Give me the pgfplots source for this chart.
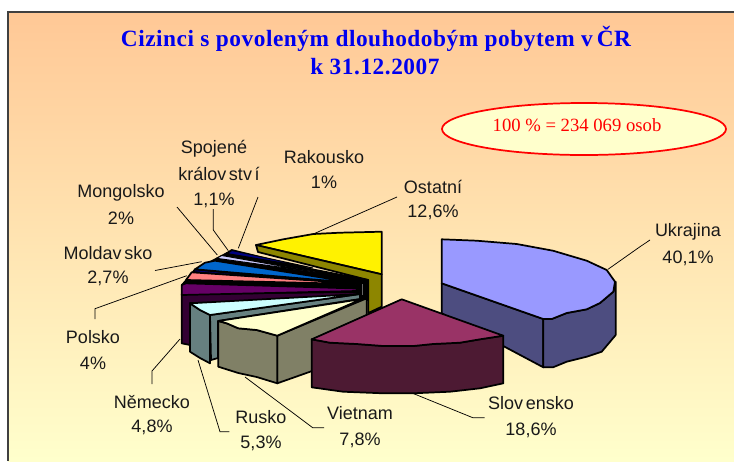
\documentclass[border=0pt]{standalone}
\usepackage{pgfplots}
\pgfplotsset{compat=1.18}
\usepackage{fontspec}
\setmainfont{Liberation Sans}
\newfontfamily\serifbold[LetterSpace=2.3]{Liberation Serif Bold}
\newfontfamily\serifreg{Liberation Serif}
\newcommand{\F}[2]{\addplot[fill=#1,draw=black,line width=1.3pt,line join=round] coordinates {#2} -- cycle;}
\newcommand{\Lab}[3]{\node[font=\fontsize{13.5}{14}\selectfont,text=black!90,inner sep=0pt,anchor=center] at (axis cs:#1,#2) {#3};}
\newcommand{\Lead}[1]{\addplot[black,line width=0.55pt] coordinates {#1};}
\definecolor{bgtop}{HTML}{FFC896}
\definecolor{bgbot}{HTML}{FFFFCC}
\begin{document}
\begin{tikzpicture}
\begin{axis}[
 scale only axis, width=550.5pt, height=345.75pt,
 xmin=0,xmax=734,ymin=0,ymax=461,y dir=reverse,
 hide axis, no markers, clip=true]
% page and panel
\addplot[fill=white,draw=none] coordinates {(0,0)(734,0)(734,461)(0,461)} -- cycle;
\addplot[draw=none,top color=bgtop,bottom color=bgbot] coordinates {(8,12)(734,12)(734,461)(8,461)} -- cycle;
\addplot[draw=black!75,line width=1pt] coordinates {(8,461)(8,12)(734,12)};
% leader lines
\Lead{(640,246.7)(608,269.3)}
\Lead{(640,246.7)(650,240)}
\Lead{(397,197)(313.3,234)}
\Lead{(258,197)(238.3,248.3)}
\Lead{(213.3,209)(213.3,230)(228.3,250.7)}
\Lead{(177,207)(217.3,255)}
\Lead{(155,270.5)(201.7,261.7)}
\Lead{(95,319)(95,308.7)(186.7,275.7)}
\Lead{(152,384)(152,371)(180,339)}
\Lead{(198,360)(220,431.7)(229.4,431.7)}
\Lead{(245,377)(312.7,427.7)(324,427.7)}
\Lead{(412,393)(472.8,417.7)(484.6,417.7)}
% Ostatni
\F{yellow}{(381.7,274.3)(381.7,231.7)(340,232.7)(313.3,234)(283.3,239.3)(256,245)}
\F{olive}{(256,245)(381.7,274.3)(381.7,306.7)(368.3,313)(368.3,280)(258,252)}
% back of the fan
\F{black}{(227,253)(368,280)(368,300)(182,300)(182,285)(195,270)}
\F{black!60!white}{(361,283)(364,283)(364,296)(361,296)}
% Rakousko, Spojene kralovstvi
\F{black}{(226.7,253.3)(231.7,250)(362,282)}
\addplot[fill={rgb,255:red,0;green,0;blue,128},draw=black,line width=0.7pt] coordinates {(227,253.5)(232,250.5)(313,268)} -- cycle;
% Mongolsko
\addplot[fill={rgb,255:red,204;green,204;blue,255},draw=black,line width=0.7pt] coordinates {(216.7,258.3)(221.7,255.5)(315,272)} -- cycle;
% Moldavsko
\F{black!20!blue!60!black}{(195,269.3)(193,272)(358.3,286)}
\F{{rgb,255:red,0;green,102;blue,204}}{(195,269.3)(205,262.7)(215,260.7)(358.3,283.3)}
% Polsko
\F{{rgb,255:red,255;green,128;blue,128}}{(186,280)(191.7,272.3)(320,281)(355,284)}
% Nemecko
\F{{rgb,255:red,51;green,0;blue,51}}{(181.7,294)(356.7,292)(356.7,300)(190,303)(190,345)(181.7,343.3)}
\F{{rgb,255:red,102;green,0;blue,102}}{(181.7,285)(186,283.3)(356.7,288.5)(356.7,291)(181.7,295)}
% Rusko
\F{{rgb,255:red,102;green,128;blue,128}}{(210,315)(360,294)(360,299)(218,321)(218,358)(211,360)}
\F{{rgb,255:red,102;green,128;blue,128}}{(190,303.3)(200,310)(210,315)(210,363.3)(200,358)(190,351.7)}
\F{{rgb,255:red,204;green,255;blue,255}}{(190,303.3)(200,310)(210,315)(360,294)}
% Vietnam
\F{{rgb,255:red,128;green,128;blue,102}}{(277.3,335.7)(366.7,298.3)(366.7,351.7)(277.3,383.3)}
\F{{rgb,255:red,128;green,128;blue,102}}{(218.3,321)(226.7,323.3)(238.3,328.3)(256.7,330)(277.3,335.7)(277.3,383.3)(256.7,377)(238.3,373)(218.3,366.7)}
\F{{rgb,255:red,255;green,255;blue,204}}{(218.3,321)(226.7,323.3)(238.3,328.3)(256.7,330)(277.3,335.7)(362,299)}
% Ukrajina
\F{{rgb,255:red,77;green,77;blue,128}}{(441.7,283.3)(543.3,319)(543.3,367.3)(441.7,313.3)}
\F{{rgb,255:red,77;green,77;blue,128}}{(543.3,319)(551.7,319)(566.7,313)(586.7,309.3)(600,303)(613.3,291.7)(615.7,281.7)(615.7,335)(601.7,351.7)(586.7,356.7)(566.7,361.7)(553,367.3)(543.3,367.3)}
\F{{rgb,255:red,153;green,153;blue,255}}{(441.7,283.3)(441.7,239.3)(476.7,240.7)(516.7,244)(553,250.7)(586.7,260.7)(606.7,270)(615,281.7)(613.3,291.7)(600,303)(586.7,309.3)(566.7,313)(551.7,319)(543.3,319)}
% Slovensko
\F{{rgb,255:red,77;green,26;blue,51}}{(311.7,339.3)(330,342.7)(356.7,344)(383.3,346)(413.3,346)(433,344)(460,342.7)(480,339.3)(503.3,335.7)(503.3,383.3)(480,388.3)(450,391.7)(413,393.3)(383.3,393.3)(343,391.7)(311.7,387.3)}
\F{{rgb,255:red,153;green,51;blue,102}}{(401.7,299.3)(311.7,339.3)(330,342.7)(356.7,344)(383.3,346)(413.3,346)(433,344)(460,342.7)(480,339.3)(503.3,335.7)}
% ellipse
\draw[fill=bgbot,draw=red,line width=1.3pt] (axis cs:584,129) ellipse [x radius=142,y radius=26];
% texts
\node[font=\serifbold\fontsize{17.5}{18}\selectfont,text={rgb,255:red,0;green,0;blue,238},inner sep=0pt] at (axis cs:376,39) {Cizinci s povoleným dlouhodobým pobytem v\kern3pt ČR};
\node[font=\serifbold\fontsize{17.5}{18}\selectfont,text={rgb,255:red,0;green,0;blue,238},inner sep=0pt] at (axis cs:375,67) {k 31.12.2007};
\node[font=\serifreg\fontsize{14}{14}\selectfont,text=red,inner sep=0pt] at (axis cs:577,125) {100 \% = 234 069 osob};
\Lab{688}{232}{Ukrajina}\Lab{688}{258}{40,1\%}
\Lab{433}{187}{Ostatní}\Lab{433}{212}{12,6\%}
\Lab{324}{157}{Rakousko}\Lab{324}{182}{1\%}
\Lab{214}{149}{Spojené}\Lab{219}{174}{králov\kern2pt stv\kern2pt í}\Lab{214}{200}{1,1\%}
\Lab{121}{193}{Mongolsko}\Lab{121}{218}{2\%}
\Lab{108}{253}{Moldav\kern2pt sko}\Lab{108}{278}{2,7\%}
\Lab{93}{337}{Polsko}\Lab{93}{363}{4\%}
\Lab{152}{402}{Německo}\Lab{152}{427}{4,8\%}
\Lab{261}{417}{Rusko}\Lab{261}{443}{5,3\%}
\Lab{360}{413}{Vietnam}\Lab{360}{440}{7,8\%}
\Lab{531}{403}{Slov\kern2pt ensko}\Lab{531}{430}{18,6\%}
\end{axis}
\end{tikzpicture}
\end{document}
